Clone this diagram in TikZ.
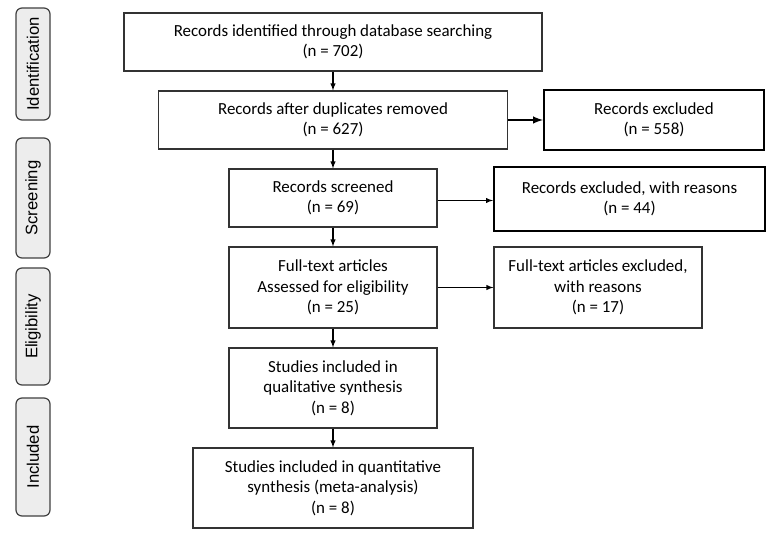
\documentclass[tikz,border=0pt]{standalone}
\usepackage{fontspec}
\setmainfont{Carlito}
\newfontfamily\phasefont{Liberation Sans}
\newdimen\px
\px=0.75pt

\begin{document}
\begin{tikzpicture}[x=0.75pt,y=-0.75pt]
 \tikzset{flow box/.style={
    draw=black!80,
    line width=0.9pt,
    align=center,
    inner sep=0pt,
    font=\fontsize{12.7}{15.3}\selectfont
  },
  excl box/.style={
    flow box,
    draw=black,
    line width=1.6pt
  },
  phase/.style={
    draw=black!75,
    fill=black!7,
    line width=0.9pt,
    rounded corners=6\px,
    rotate=90,
    minimum height=34\px,
    minimum width=#1,
    inner sep=0pt,
    font=\phasefont\fontsize{12.5}{14}\selectfont
  },
  phase/.default=118\px,
  flow/.style={-latex, line width=0.8pt},
  heavy flow/.style={-latex, line width=1.5pt}
}
\useasboundingbox (0,0) rectangle (782,541);
\node[phase=112\px] (identification) at (33,64) {Identification};
\node[phase=120\px] (screening) at (33,198) {Screening};
\node[phase=117\px] (eligibility) at (33,326.5) {Eligibility};
\node[phase] (included) at (33,457) {Included};
\node[flow box, minimum width=418\px, minimum height=58\px] (ident) at (333,42)
  {Records identified through database searching\\(n = 702)};
\node[flow box, minimum width=349\px, minimum height=58\px] (dupl) at (333,120)
  {Records after duplicates removed\\(n = 627)};
\node[excl box, minimum width=220\px, minimum height=60\px] (excl) at (654,120)
  {Records excluded\\(n = 558)};
\node[flow box, minimum width=208\px, minimum height=58\px] (screen) at (333,198)
  {Records screened\\(n = 69)};
\node[excl box, minimum width=271\px, minimum height=64\px] (exclscreen) at (629.5,199)
  {Records excluded, with reasons\\(n = 44)};
\node[flow box, minimum width=208\px, minimum height=81\px] (full) at (333,287.5)
  {Full-text articles\\Assessed for eligibility\\(n = 25)};
\node[flow box, minimum width=208\px, minimum height=81\px] (exclfull) at (598,287.5)
  {Full-text articles excluded,\\with reasons\\(n = 17)};
\node[flow box, minimum width=208\px, minimum height=80\px] (qual) at (333,388)
  {Studies included in\\qualitative synthesis\\(n = 8)};
\node[flow box, minimum width=280\px, minimum height=80\px] (quant) at (333,488)
  {Studies included in quantitative\\synthesis (meta-analysis)\\(n = 8)};
\draw[flow] (ident) -- (dupl);
\draw[flow] (dupl) -- (screen);
\draw[flow] (screen) -- (full);
\draw[flow] (full) -- (qual);
\draw[flow] (qual) -- (quant);
\draw[heavy flow] (dupl) -- (excl);
\draw[flow] ([yshift=-2.5\px]screen.east) -- ([yshift=-2.5\px]screen.east -| exclscreen.west);
\draw[flow] (full) -- (exclfull);
\end{tikzpicture}
\end{document}
